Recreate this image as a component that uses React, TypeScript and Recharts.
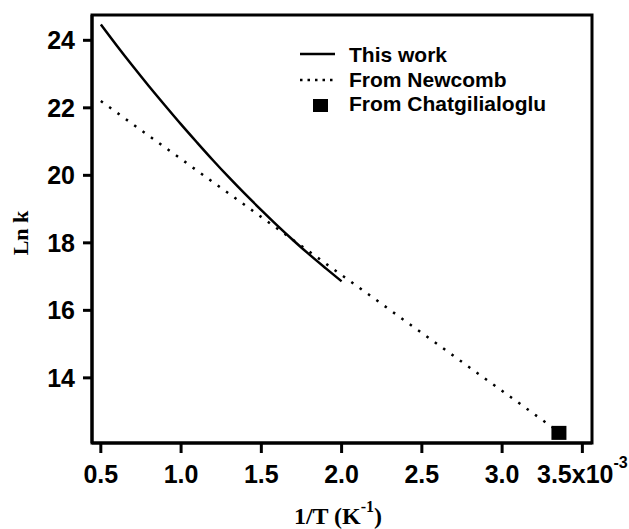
import { ComposedChart, Line, Scatter, XAxis, YAxis, Legend, ReferenceArea, Label } from "recharts";

// 1/T in units of 10^-3 K^-1
const thisWorkX = [0.5, 0.6, 0.7, 0.8, 0.9, 1.0, 1.1, 1.2, 1.3, 1.4, 1.5, 1.6, 1.7, 1.8, 1.9, 2.0];
const thisWorkLnK = [24.47, 23.84, 23.23, 22.64, 22.07, 21.51, 20.97, 20.44, 19.93, 19.44, 18.97, 18.51, 18.07, 17.65, 17.25, 16.86];
const newcombX = [0.5, 3.33];
const newcombLnK = [22.2, 12.48];
const chatX = [3.354];
const chatLnK = [12.37];

const xTicks = [0.5, 1.0, 1.5, 2.0, 2.5, 3.0, 3.5];
const yTicks = [14, 16, 18, 20, 22, 24];
const xDomain = [0.445, 3.56];
const yDomain = [12.07, 24.75];

const thisWork = thisWorkX.map((x, i) => ({ x, y: thisWorkLnK[i] }));
const newcomb = newcombX.map((x, i) => ({ x, y: newcombLnK[i] }));
const chat = chatX.map((x, i) => ({ x, y: chatLnK[i] }));

const SANS = "'Liberation Sans', Arial, sans-serif";
const SERIF = "'Liberation Serif', 'Times New Roman', serif";

function XTick({ x, y, payload }: any) {
  const v = payload.value as number;
  return (
    <text x={x} y={y} dy={30} textAnchor="middle" fontFamily={SANS} fontWeight="bold" fontSize={25} fill="#000">
      {v.toFixed(1)}
      {v === 3.5 ? "x10" : null}
      {v === 3.5 ? <tspan dy={-15} fontSize={16}>-3</tspan> : null}
    </text>
  );
}

function YTick({ x, y, payload }: any) {
  return (
    <text x={x} y={y} dy={9} textAnchor="end" fontFamily={SANS} fontWeight="bold" fontSize={25} fill="#000">
      {payload.value}
    </text>
  );
}

function renderLegend() {
  return (
    <svg width={270} height={80} style={{ display: "block" }}>
      <line x1={4} x2={39} y1={14} y2={14} stroke="#000" strokeWidth={2.5} />
      <text x={53} y={22} fontFamily={SANS} fontWeight="bold" fontSize={21}>This work</text>
      <line x1={4} x2={39} y1={40} y2={40} stroke="#000" strokeWidth={2.5} strokeDasharray="2.5 5" />
      <text x={53} y={47} fontFamily={SANS} fontWeight="bold" fontSize={21}>From Newcomb</text>
      <rect x={17} y={59} width={15} height={13} fill="#000" />
      <text x={53} y={71} fontFamily={SANS} fontWeight="bold" fontSize={21}>From Chatgilialoglu</text>
    </svg>
  );
}

const squareShape = (props: any) => (
  <rect x={props.cx - 7.5} y={props.cy - 7} width={15} height={14} fill="#000" />
);

export default function App() {
  return (
    <div style={{ position: "absolute", left: 0, top: 0, width: 629, height: 529, background: "#fff" }}>
      <ComposedChart width={629} height={529} margin={{ top: 15, right: 37, bottom: 0, left: 0 }}>
        <XAxis
          type="number"
          dataKey="x"
          domain={xDomain}
          ticks={xTicks}
          allowDataOverflow
          height={86}
          tickSize={10}
          tickMargin={0}
          axisLine={{ stroke: "#000", strokeWidth: 3 }}
          tickLine={{ stroke: "#000", strokeWidth: 3 }}
          tick={<XTick />}
        >
          <Label
            content={() => (
              <text x={338} y={524} textAnchor="middle" fontFamily={SERIF} fontWeight="bold" fontSize={24} fill="#000">
                1/T (K<tspan dy={-12} fontSize={16}>-1</tspan><tspan dy={12}>)</tspan>
              </text>
            )}
          />
        </XAxis>
        <YAxis
          type="number"
          dataKey="y"
          domain={yDomain}
          ticks={yTicks}
          allowDataOverflow
          width={92}
          tickSize={9}
          tickMargin={8}
          axisLine={{ stroke: "#000", strokeWidth: 3 }}
          tickLine={{ stroke: "#000", strokeWidth: 3 }}
          tick={<YTick />}
        >
          <Label
            content={() => (
              <text x={28} y={233} transform="rotate(-90 28 233)" textAnchor="middle" fontFamily={SERIF} fontWeight="bold" fontSize={22} fill="#000">
                Ln k
              </text>
            )}
          />
        </YAxis>
        <ReferenceArea x1={xDomain[0]} x2={xDomain[1]} y1={yDomain[0]} y2={yDomain[1]} fill="none" stroke="#000" strokeWidth={3} />
        <Line data={newcomb} dataKey="y" stroke="#000" strokeWidth={2.5} strokeDasharray="2.5 7.8" dot={false} isAnimationActive={false} />
        <Line data={thisWork} dataKey="y" type="monotone" stroke="#000" strokeWidth={2.5} dot={false} isAnimationActive={false} />
        <Scatter data={chat} dataKey="y" shape={squareShape} isAnimationActive={false} />
        <Legend
          layout="vertical"
          align="center"
          verticalAlign="middle"
          content={renderLegend}
          wrapperStyle={{ position: "absolute", left: 296, top: 40, width: 270 }}
        />
      </ComposedChart>
    </div>
  );
}
